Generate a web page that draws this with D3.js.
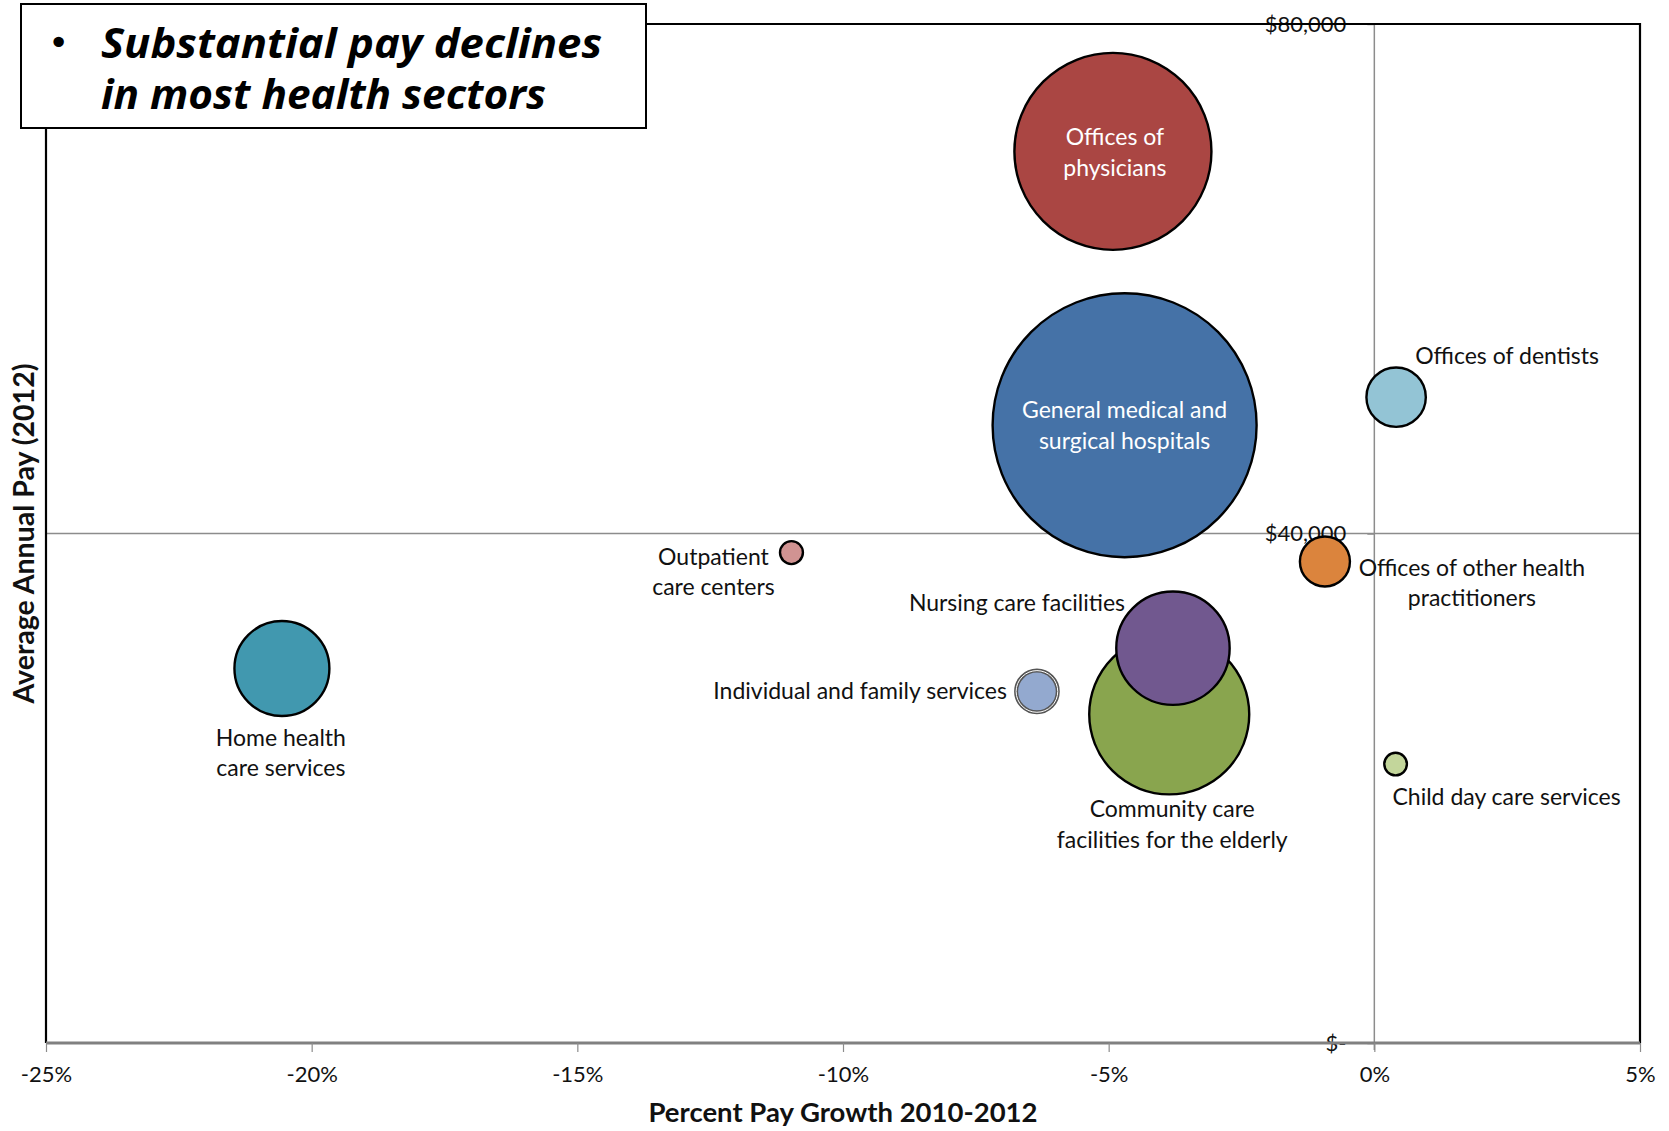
<!DOCTYPE html>
<html>
<head>
<meta charset="utf-8">
<script src="https://cdn.jsdelivr.net/npm/d3@7"></script>
<style>
  html, body { margin: 0; padding: 0; background: #fff; }
  svg { display: block; }
</style>
</head>
<body>
<div id="chart"></div>
<script>
// ---------- DATA ----------
const sectors = [
  "Offices of physicians",
  "General medical and surgical hospitals",
  "Offices of dentists",
  "Offices of other health practitioners",
  "Outpatient care centers",
  "Community care facilities for the elderly",
  "Nursing care facilities",
  "Individual and family services",
  "Home health care services",
  "Child day care services"
];
const labelLines = [
  ["Offices of", "physicians"],
  ["General medical and", "surgical hospitals"],
  ["Offices of dentists"],
  ["Offices of other health", "practitioners"],
  ["Outpatient", "care centers"],
  ["Community care", "facilities for the elderly"],
  ["Nursing care facilities"],
  ["Individual and family services"],
  ["Home health", "care services"],
  ["Child day care services"]
];
// Percent pay growth 2010-2012 (%)
const payGrowth = [-4.92, -4.70, 0.41, -0.93, -10.97, -3.86, -3.79, -6.35, -20.56, 0.40];
// Average annual pay 2012 ($)
const avgPay = [70000, 48500, 50700, 37800, 38500, 25800, 31000, 27600, 29400, 21900];
// Bubble size (relative employment)
const bubbleSize = [2730, 4900, 248, 176, 37, 1800, 904, 122, 634, 36];

const xTicks = [-25, -20, -15, -10, -5, 0, 5];
const yTicks = [0, 40000, 80000];

const titleLines = ["Substantial pay declines", "in most health sectors"];
const xTitle = "Percent Pay Growth 2010-2012";
const yTitle = "Average Annual Pay (2012)";

// ---------- STYLE / LAYOUT ----------
const colors = ["#AA4643", "#4572A7", "#93C4D5", "#DB843D", "#D19392",
                "#89A54E", "#71588F", "#93A9CF", "#4198AF", "#C3D69B"];
// label placement relative to bubble centre: [dx, firstLineDy, anchor, colour]
const labelPlace = [
  [2, -14, "middle", "#fff"],
  [0, -15, "middle", "#fff"],
  [111, -41, "middle", "#111"],
  [147, 6, "middle", "#111"],
  [-78, 4, "middle", "#111"],
  [3, 95, "middle", "#111"],
  [-156, -45, "middle", "#111"],
  [-30, 0, "end", "#111"],
  [-1, 69, "middle", "#111"],
  [111, 33, "middle", "#111"]
];
const lineGap = 30.5;
const titleWidths = [501, 445];

const W = 1669, H = 1131;
const pL = 46, pR = 1640, pT = 24, pB = 1043;
const font = "Lato, 'Open Sans', sans-serif";

const svg = d3.select("#chart").append("svg")
  .attr("width", W).attr("height", H);

const x = d3.scaleLinear().domain([-25, 5]).range([pL, pR]);
const y = d3.scaleLinear().domain([0, 80000]).range([pB, pT]);
const r = d3.scaleSqrt().domain([0, 4900]).range([0, 132]);

// gridline at $40,000
svg.append("g").selectAll("line")
  .data(yTicks.filter(t => t > 0 && t < 80000))
  .join("line")
  .attr("x1", pL).attr("x2", pR)
  .attr("y1", d => y(d)).attr("y2", d => y(d))
  .attr("stroke", "#8c8c8c").attr("stroke-width", 1.5);

// vertical axis at 0%
const yAxis = d3.axisLeft(y).tickValues(yTicks).tickSize(7).tickPadding(22)
  .tickFormat(d => d === 0 ? "$-" : d3.format("$,")(d));
const gy = svg.append("g").attr("transform", `translate(${x(0)},0)`).call(yAxis);
gy.select(".domain").attr("stroke", "#8c8c8c").attr("stroke-width", 1.5)
  .attr("d", `M0,${pT}V${pB + 7}`);
gy.selectAll(".tick line").attr("stroke", "#8c8c8c").attr("stroke-width", 1.5);
gy.selectAll(".tick text").attr("font-family", font).attr("font-size", 22)
  .attr("fill", "#111").attr("x", -28).attr("dy", "0.32em");

// plot frame (top, right, left)
svg.append("path")
  .attr("d", `M${pL},${pB}V${pT}H${pR}V${pB}`)
  .attr("fill", "none").attr("stroke", "#000").attr("stroke-width", 2.2);

// x axis at bottom
const xAxis = d3.axisBottom(x).tickValues(xTicks).tickSize(9).tickPadding(14)
  .tickFormat(d => d + "%");
const gx = svg.append("g").attr("transform", `translate(0,${pB})`).call(xAxis);
gx.select(".domain").attr("stroke", "#808080").attr("stroke-width", 3)
  .attr("d", `M${pL},0H${pR}`);
gx.selectAll(".tick line").attr("stroke", "#8c8c8c").attr("stroke-width", 1.2);
gx.selectAll(".tick text").attr("font-family", font).attr("font-size", 22)
  .attr("fill", "#111");

// bubbles
const data = sectors.map((s, i) => ({
  name: s, lines: labelLines[i], x: payGrowth[i], y: avgPay[i],
  size: bubbleSize[i], color: colors[i], place: labelPlace[i], idx: i
}));

svg.append("g").selectAll("circle")
  .data(data)
  .join("circle")
  .attr("cx", d => x(d.x)).attr("cy", d => y(d.y)).attr("r", d => r(d.size))
  .attr("fill", d => d.color)
  .attr("stroke", d => d.idx === 7 ? "#555" : "#000")
  .attr("stroke-width", d => d.idx === 7 ? 4 : 2.4);

// double-ring outline for "Individual and family services"
svg.append("g").selectAll("circle")
  .data(data.filter(d => d.idx === 7))
  .join("circle")
  .attr("cx", d => x(d.x)).attr("cy", d => y(d.y)).attr("r", d => r(d.size))
  .attr("fill", "none").attr("stroke", "#fff").attr("stroke-width", 1);

// labels
const lbl = svg.append("g").selectAll("text")
  .data(data)
  .join("text")
  .attr("font-family", font).attr("font-size", 23)
  .attr("fill", d => d.place[3])
  .attr("text-anchor", d => d.place[2])
  .attr("x", d => x(d.x) + d.place[0])
  .attr("y", d => y(d.y) + d.place[1]);
lbl.selectAll("tspan")
  .data(d => d.lines.map((t, k) => ({ t, k, d })))
  .join("tspan")
  .attr("x", o => x(o.d.x) + o.d.place[0])
  .attr("y", o => y(o.d.y) + o.d.place[1] + o.k * lineGap)
  .attr("dy", "0.35em")
  .text(o => o.t);

// axis titles
svg.append("text")
  .attr("x", (pL + pR) / 2).attr("y", 1112).attr("dy", "0.35em")
  .attr("text-anchor", "middle")
  .attr("font-family", font).attr("font-weight", "bold").attr("font-size", 27.5)
  .attr("fill", "#111").text(xTitle);

svg.append("text")
  .attr("transform", `translate(24,${(pT + pB) / 2}) rotate(-90)`)
  .attr("dy", "0.35em").attr("text-anchor", "middle")
  .attr("font-family", font).attr("font-weight", "bold").attr("font-size", 28.5)
  .attr("fill", "#111").text(yTitle);

// title box
svg.append("rect")
  .attr("x", 21).attr("y", 4).attr("width", 625).attr("height", 124)
  .attr("fill", "#fff").attr("stroke", "#000").attr("stroke-width", 2);
svg.append("text")
  .attr("x", 48).attr("y", 55)
  .attr("font-family", "'DejaVu Sans', sans-serif").attr("font-size", 36)
  .attr("fill", "#000").text("•");
svg.append("text")
  .attr("font-family", "'Open Sans', Lato, sans-serif").attr("font-weight", "bold")
  .attr("font-style", "italic").attr("font-size", 42)
  .attr("fill", "#000")
  .selectAll("tspan")
  .data(titleLines)
  .join("tspan")
  .attr("x", 101).attr("y", (d, i) => 58 + i * 51)
  .attr("textLength", (d, i) => titleWidths[i])
  .attr("lengthAdjust", "spacingAndGlyphs")
  .text(d => d);
</script>
</body>
</html>
